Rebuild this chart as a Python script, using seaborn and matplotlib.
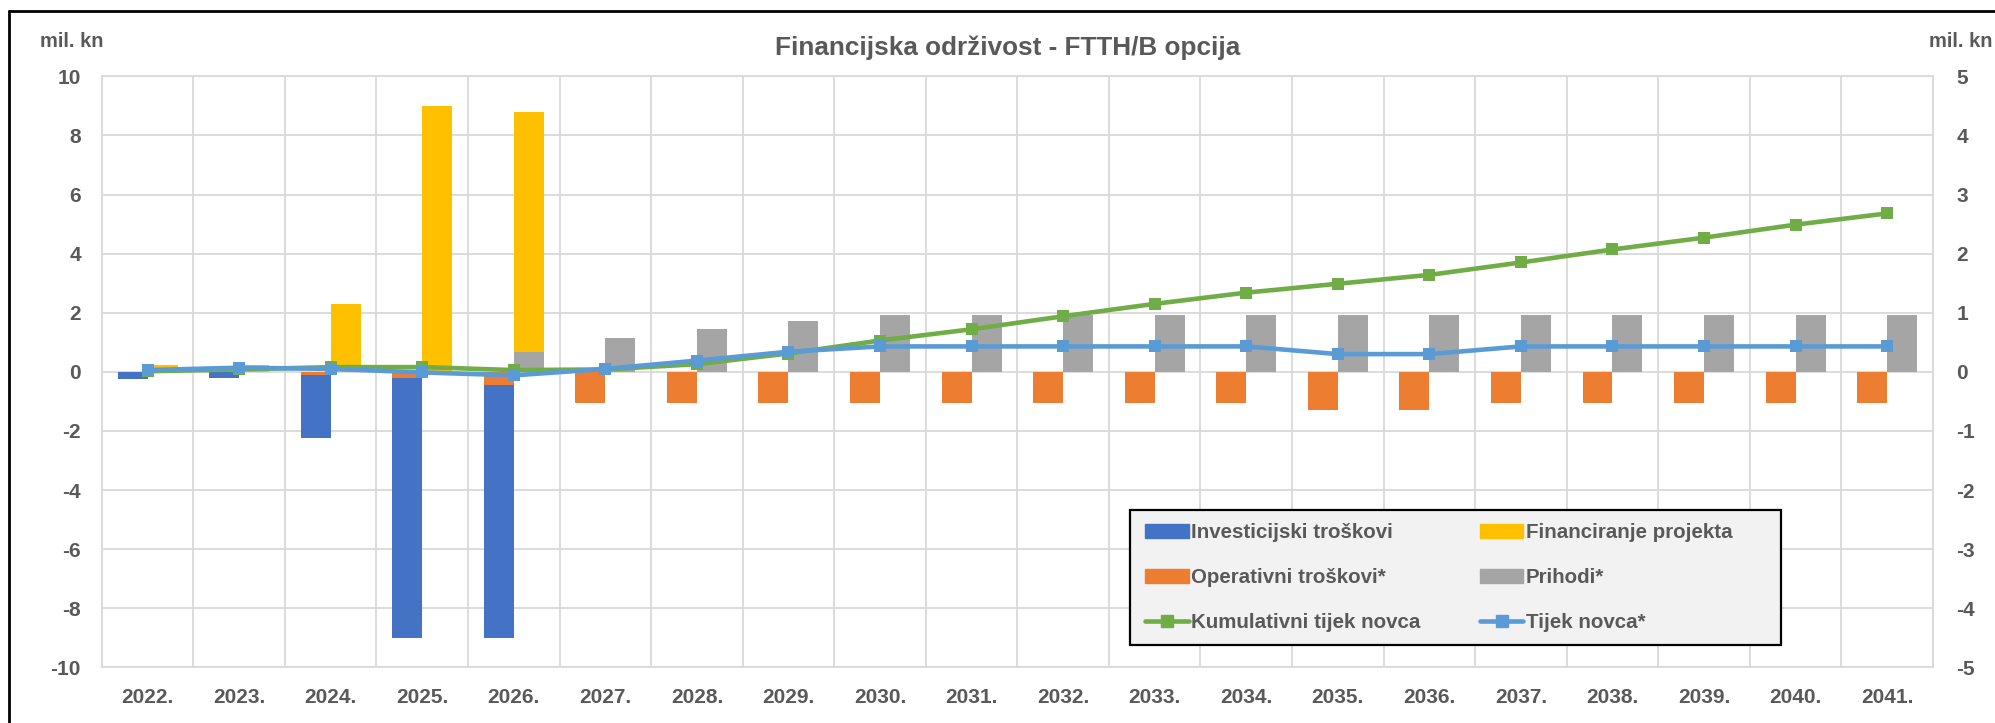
import numpy as np
import pandas as pd
import seaborn as sns
import matplotlib.pyplot as plt
from matplotlib.patches import Patch, Rectangle
from matplotlib.lines import Line2D

# values (mil. kn)
years = ['2022.', '2023.', '2024.', '2025.', '2026.', '2027.', '2028.', '2029.', '2030.', '2031.',
         '2032.', '2033.', '2034.', '2035.', '2036.', '2037.', '2038.', '2039.', '2040.', '2041.']
investicijski = [-0.24, -0.20, -2.24, -9.0, -9.0, 0, 0, 0, 0, 0,
                 0, 0, 0, 0, 0, 0, 0, 0, 0, 0]
operativni = [0, 0, -0.10, -0.22, -0.43, -1.05, -1.05, -1.05, -1.05, -1.05,
              -1.05, -1.05, -1.05, -1.3, -1.3, -1.05, -1.05, -1.05, -1.05, -1.05]
financiranje = [0.23, 0.22, 2.3, 8.98, 8.78, 0, 0, 0, 0, 0,
                0, 0, 0, 0, 0, 0, 0, 0, 0, 0]
prihodi = [0, 0, 0, 0, 0.68, 1.16, 1.44, 1.72, 1.93, 1.93,
           1.93, 1.93, 1.93, 1.93, 1.93, 1.93, 1.93, 1.93, 1.93, 1.93]
# lines are on the secondary (right) axis
kumulativni = [0.01, 0.04, 0.08, 0.08, 0.03, 0.04, 0.13, 0.31, 0.53, 0.72,
               0.94, 1.15, 1.34, 1.49, 1.64, 1.85, 2.07, 2.27, 2.49, 2.68]
tijek_novca = [0.03, 0.07, 0.05, -0.01, -0.06, 0.05, 0.19, 0.34, 0.43, 0.43,
               0.43, 0.43, 0.43, 0.30, 0.30, 0.43, 0.43, 0.43, 0.43, 0.43]

c_inv = '#4472c4'
c_fin = '#ffc000'
c_op = '#ed7d31'
c_pri = '#a5a5a5'
c_kum = '#70ad47'
c_tij = '#5b9bd5'
txt = '#595959'
grid_c = '#d9d9d9'

sns.set_theme(style='white')
plt.rcParams['font.family'] = ['Liberation Sans', 'DejaVu Sans']
plt.rcParams['font.weight'] = 'bold'
plt.rcParams['axes.unicode_minus'] = False

back = pd.DataFrame({'year': years * 2,
                     'slot': ['L'] * 20 + ['R'] * 20,
                     'value': investicijski + financiranje})
front = pd.DataFrame({'year': years * 2,
                      'slot': ['L'] * 20 + ['R'] * 20,
                      'value': operativni + prihodi})

fig = plt.figure(figsize=(19.95, 7.23), dpi=100)
ax = fig.add_axes([0.051, 0.0769, 0.9179, 0.8176])

sns.barplot(data=back, x='year', y='value', hue='slot', hue_order=['L', 'R'], order=years,
            palette={'L': c_inv, 'R': c_fin}, width=0.655, saturation=1, errorbar=None,
            legend=False, linewidth=0, ax=ax)
sns.barplot(data=front, x='year', y='value', hue='slot', hue_order=['L', 'R'], order=years,
            palette={'L': c_op, 'R': c_pri}, width=0.655, saturation=1, errorbar=None,
            legend=False, linewidth=0, ax=ax)

ax.set_xlim(-0.5, 19.5)
ax.set_ylim(-10, 10)
ax.set_yticks(np.arange(-10, 11, 2))
ax.set_xticks(np.arange(-0.5, 20, 1), minor=True)
ax.set_xlabel('')
ax.set_ylabel('')
ax.grid(False)
ax.grid(which='major', axis='y', color=grid_c, lw=1.3)
ax.grid(which='minor', axis='x', color=grid_c, lw=1.3)
ax.set_axisbelow(True)
ax.tick_params(axis='both', which='both', length=0, labelsize=15, labelcolor=txt)
ax.tick_params(axis='x', pad=15)
ax.tick_params(axis='y', pad=15)
for s in ax.spines.values():
    s.set_color(grid_c)
    s.set_linewidth(1.3)

ax2 = ax.twinx()
x_pos = np.arange(len(years))
sns.lineplot(x=x_pos, y=kumulativni, ax=ax2, color=c_kum, lw=3.3, marker='s',
             markersize=9, markeredgewidth=0, legend=False)
sns.lineplot(x=x_pos, y=tijek_novca, ax=ax2, color=c_tij, lw=3.3, marker='s',
             markersize=9, markeredgewidth=0, legend=False)
ax2.set_ylim(-5, 5)
ax2.set_yticks(np.arange(-5, 6, 1))
ax2.set_ylabel('')
ax2.tick_params(axis='y', length=0, labelsize=15, labelcolor=txt, pad=17)
for s in ax2.spines.values():
    s.set_visible(False)
ax2.set_xlim(-0.5, 19.5)

# legend box drawn separately so the second column can sit a bit left of the right edge
ax2.add_patch(Rectangle((0.5615, 0.038), 0.3555, 0.228, transform=ax2.transAxes,
                        facecolor='#f2f2f2', edgecolor='black', lw=1.6, zorder=4.9,
                        clip_on=False))

handles = [
    Patch(color=c_inv, label='Investicijski troškovi'),
    Patch(color=c_op, label='Operativni troškovi*'),
    Line2D([], [], color=c_kum, lw=3.3, marker='s', markersize=9, label='Kumulativni tijek novca'),
    Patch(color=c_fin, label='Financiranje projekta'),
    Patch(color=c_pri, label='Prihodi*'),
    Line2D([], [], color=c_tij, lw=3.3, marker='s', markersize=9, label='Tijek novca*'),
]
leg = ax2.legend(handles=handles, ncol=2, loc='center left',
                 bbox_to_anchor=(0.5615, 0.038, 0.3375, 0.228), mode='expand',
                 fontsize=14.8, handlelength=2.1, handleheight=0.7, handletextpad=0.12,
                 labelspacing=1.25, borderpad=0.75, borderaxespad=0, numpoints=1,
                 frameon=False)
leg.set_zorder(5)
for t in leg.get_texts():
    t.set_color(txt)

fig.text(0.505, 0.9336, 'Financijska održivost - FTTH/B opcija', ha='center', va='center',
         fontsize=18.8, fontweight='bold', color=txt)
fig.text(40 / 1995, 0.942, 'mil. kn', ha='left', va='center', fontsize=14.5,
         fontweight='bold', color=txt)
fig.text(1929 / 1995, 0.942, 'mil. kn', ha='left', va='center', fontsize=14.5,
         fontweight='bold', color=txt)

# outer frame (only left and top edges visible in the crop)
fig.add_artist(Line2D([9 / 1995, 9 / 1995], [0, 1 - 11 / 723], color='black', lw=2,
                      transform=fig.transFigure))
fig.add_artist(Line2D([9 / 1995, 1], [1 - 11 / 723, 1 - 11 / 723], color='black', lw=2,
                      transform=fig.transFigure))

fig.savefig('out.png', dpi=100)
